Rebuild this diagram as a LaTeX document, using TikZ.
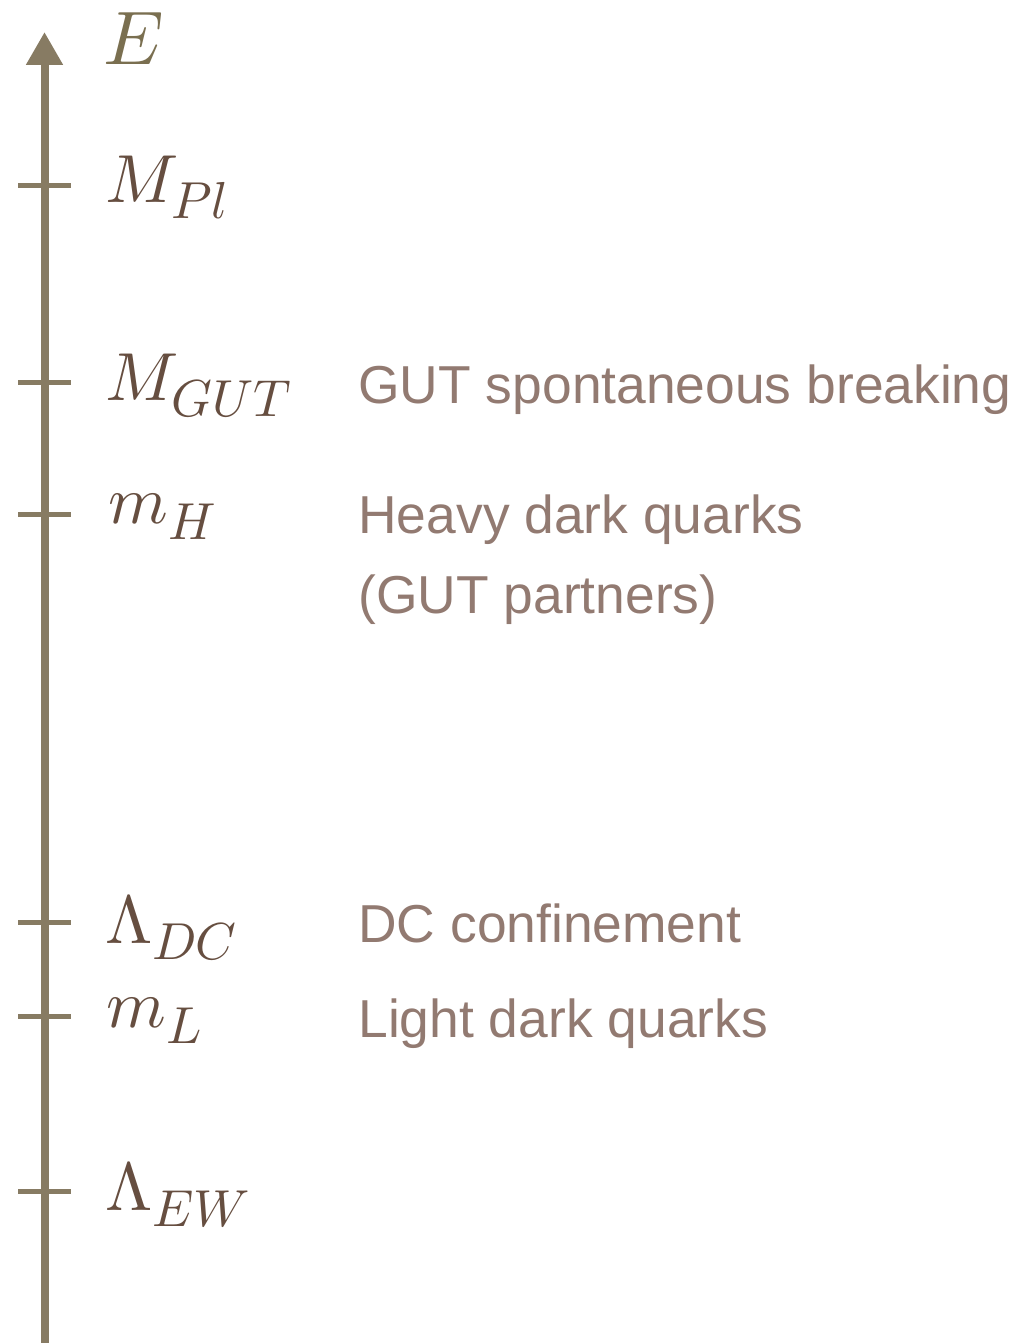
\documentclass[tikz,border=0pt]{standalone}
\usepackage{fontspec}
\usepackage{unicode-math}
\setmathfont{Latin Modern Math}
\setsansfont{Liberation Sans}
\DeclareMathSizes{34}{34}{26}{19}
\usetikzlibrary{arrows.meta}
\usepackage{xcolor}
\definecolor{axisolive}{RGB}{135,123,99}
\definecolor{energyolive}{RGB}{122,111,80}
\definecolor{scalebrown}{RGB}{102,78,64}
\definecolor{notebrown}{RGB}{146,122,113}
\tikzset{
    axisline/.style={
        -{Triangle[length=16.5pt,width=17.5pt]},line width=4pt,draw=axisolive
    },
    tickmark/.style={
        draw=axisolive,line width=2.5pt
    },
    scalelabel/.style={
        anchor=base west,inner sep=0pt,text=scalebrown,
        font=\fontsize{34}{40}\selectfont
    },
    note/.style={
        anchor=base west,inner sep=0pt,text=notebrown,
        font=\sffamily\fontsize{26.7}{32}\selectfont
    }
}

\begin{document}
\begin{tikzpicture}[x=0.5pt,y=-0.5pt]
\useasboundingbox (0,0) rectangle (1022,1343);

% energy axis
\coordinate (bottom) at (44.5,1343);
\coordinate (top) at (44.5,32);
\draw[axisline] (bottom) -- (top);
\node[anchor=base west,inner sep=0pt,text=energyolive,
font=\fontsize{38}{44}\selectfont] (energy) at (103,65) {$E$};

% ticks
\draw[tickmark] (18,185) -- (71,185);
\draw[tickmark] (18,382) -- (71,382);
\draw[tickmark] (18,514) -- (71,514);
\draw[tickmark] (18,922) -- (71,922);
\draw[tickmark] (18,1016) -- (71,1016);
\draw[tickmark] (18,1191) -- (71,1191);

% scales
\node[scalelabel] (mpl) at (105,202) {$M_{Pl}$};
\node[scalelabel] (mgut) at (105,400) {$M_{GUT}$};
\node[scalelabel] (mh) at (108,523) {$m_H$};
\node[scalelabel] (ldc) at (105,943) {$\Lambda_{DC}$};
\node[scalelabel] (ml) at (106,1027) {$m_L$};
\node[scalelabel] (lew) at (105,1210) {$\Lambda_{EW}$};

% what happens there
\node[note] (gutbreak) at (358,403) {GUT spontaneous breaking};
\node[note] (heavy) at (358,533) {Heavy dark quarks};
\node[note] (partners) at (358,613) {(GUT partners)};
\node[note] (confine) at (358,942) {DC confinement};
\node[note] (light) at (358,1037) {Light dark quarks};

\end{tikzpicture}
\end{document}
